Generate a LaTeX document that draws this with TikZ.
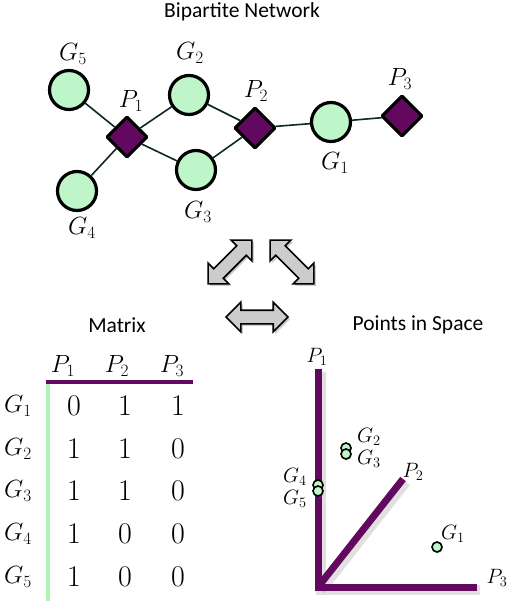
\documentclass[tikz,border=0pt]{standalone}
\usepackage{fontspec}
\newfontfamily\titlefont{Carlito}
\usepackage{xcolor}
\usepackage{tikz}
\usetikzlibrary{shapes.geometric, shapes.arrows, shadows}

\definecolor{genegreen}{RGB}{190,246,201}
\definecolor{paperpurple}{RGB}{98,8,94}
\definecolor{edgedark}{RGB}{14,40,34}

\begin{document}
\begin{tikzpicture}[
          x=1pt, y=-1pt,
          gene/.style={circle, draw=black, line width=3.2pt, fill=genegreen, minimum size=39pt, inner sep=0pt},
          paper/.style={diamond, draw=black, line width=3.2pt, line join=round, fill=paperpurple, minimum size=41pt, inner sep=0pt},
          link/.style={draw=edgedark, line width=1.6pt},
          netlabel/.style={font=\fontsize{26}{28}\selectfont, inner sep=0pt},
          heading/.style={font=\titlefont\fontsize{21.5}{24}\selectfont, inner sep=0pt},
          swap/.style={double arrow, draw=black, line width=1.6pt, fill=gray!40, minimum height=62pt, inner sep=6pt, double arrow head extend=8pt, drop shadow={shadow xshift=2pt, shadow yshift=-2pt, opacity=.4}},
          axis/.style={draw=paperpurple, line width=7pt},
          axisshadow/.style={draw=black, line width=10pt, opacity=.12},
          dot/.style={circle, draw=black, line width=1.6pt, fill=genegreen, minimum size=10pt, inner sep=0pt, drop shadow={shadow xshift=1pt, shadow yshift=-1.5pt, opacity=.3}},
          spacelabel/.style={font=\fontsize{20}{22}\selectfont, inner sep=0pt},
          cell/.style={font=\fontsize{30}{32}\selectfont, inner sep=0pt},
          rowlabel/.style={font=\fontsize{27}{29}\selectfont, inner sep=0pt}
        ]
          \useasboundingbox (0,0) rectangle (510,613);

          % bipartite network
          \node[heading] (nettitle) at (242,12) {Bipartite Network};
          \node[gene] (g5) at (69,90) {};
          \node[gene] (g2) at (189,95) {};
          \node[gene] (g3) at (196,170) {};
          \node[gene] (g4) at (77,191) {};
          \node[gene] (g1) at (331,122) {};
          \node[paper] (p1) at (127,137) {};
          \node[paper] (p2) at (255,128) {};
          \node[paper] (p3) at (402,116) {};
          \draw[link] (g5) -- (p1);
          \draw[link] (g4) -- (p1);
          \draw[link] (p1) -- (g2);
          \draw[link] (p1) -- (g3);
          \draw[link] (g2) -- (p2);
          \draw[link] (g3) -- (p2);
          \draw[link] (p2) -- (g1);
          \draw[link] (g1) -- (p3);
          \node[netlabel] (lg5) at (73,54) {$G_5$};
          \node[netlabel] (lg2) at (190,53) {$G_2$};
          \node[netlabel] (lg3) at (198,212) {$G_3$};
          \node[netlabel] (lg4) at (82,228) {$G_4$};
          \node[netlabel] (lg1) at (335,163) {$G_1$};
          \node[netlabel] (lp1) at (131,101) {$P_1$};
          \node[netlabel] (lp2) at (256,91) {$P_2$};
          \node[netlabel] (lp3) at (400,79) {$P_3$};

          % exchange arrows
          \node[swap, rotate=45] (netmatrix) at (230,262) {};
          \node[swap, rotate=-45] (netspace) at (292,262) {};
          \node[swap] (matrixspace) at (257,317) {};

          % matrix
          \node[heading] (mattitle) at (117,325) {Matrix};
          \foreach \c/\x in {1/63, 2/117, 3/172}
            \node[rowlabel] (h\c) at (\x,366) {$P_\c$};
          \coordinate (topleft) at (46,382);
          \coordinate (topright) at (193,382);
          \coordinate (greentop) at (48,384);
          \coordinate (greenbottom) at (48,601);
          \draw[paperpurple, line width=3.5pt] (topleft) -- (topright);
          \draw[genegreen!90!green, line width=3.5pt] (greentop) -- (greenbottom);
          \foreach \r/\a/\b/\c/\y in {1/0/1/1/406, 2/1/1/0/449, 3/1/1/0/491, 4/1/0/0/534, 5/1/0/0/577} {
            \node[rowlabel] (r\r) at (18,\y) {$G_\r$};
            \node[cell] (m\r a) at (74,\y) {\a};
            \node[cell] (m\r b) at (125,\y) {\b};
            \node[cell] (m\r c) at (178,\y) {\c};
          }

          % points in space
          \node[heading] (spacetitle) at (418,325) {Points in Space};
          \coordinate (o) at (318,587);
          \coordinate (ax1) at (318,369);
          \coordinate (ax2) at (403,479);
          \coordinate (ax3) at (477,587);
          \draw[axisshadow] ([shift={(3pt,-3pt)}]ax1) -- ([shift={(3pt,-3pt)}]o) -- ([shift={(3pt,-3pt)}]ax3);
          \draw[axisshadow] ([shift={(3pt,-3pt)}]o) -- ([shift={(3pt,-3pt)}]ax2);
          \draw[axis] (ax1) -- (o) -- (ax3);
          \draw[axis] (o) -- (ax2);
          \node[spacelabel] (lax1) at (317,357) {$P_1$};
          \node[spacelabel] (lax2) at (413,472) {$P_2$};
          \node[spacelabel] (lax3) at (497,578) {$P_3$};
          \node[dot] (d2) at (346,448) {};
          \node[dot] (d3) at (346,454) {};
          \node[dot] (d4) at (318,485) {};
          \node[dot] (d5) at (318,491) {};
          \node[dot] (d1) at (437,547) {};
          \node[spacelabel] (ld2) at (369,437) {$G_2$};
          \node[spacelabel] (ld3) at (369,459) {$G_3$};
          \node[spacelabel] (ld4) at (295,477) {$G_4$};
          \node[spacelabel] (ld5) at (295,499) {$G_5$};
          \node[spacelabel] (ld1) at (453,534) {$G_1$};
        \end{tikzpicture}
\end{document}
